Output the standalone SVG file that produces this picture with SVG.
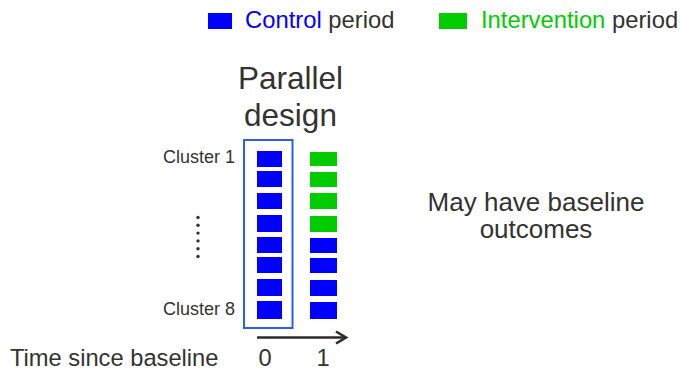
<svg xmlns="http://www.w3.org/2000/svg" width="680" height="370" viewBox="0 0 680 370">
<defs>
<style>
text{font-family:"Liberation Sans",Arial,sans-serif;fill:#333330}
.c{fill:#0000ff}
.i{fill:#00cc00}
.lg{font-size:23.8px}
.cl{font-size:18px;text-anchor:end}
.big{font-size:31.5px;text-anchor:middle}
.mid{font-size:26px;text-anchor:middle}
.ax{font-size:23.7px}
</style>
</defs>
<rect width="680" height="370" fill="#ffffff"/>
<g id="legend">
<rect class="c" x="208" y="13" width="24" height="16"/>
<text class="lg" x="245" y="27.5"><tspan fill="#0000ff">Control</tspan> period</text>
<rect class="i" x="439" y="13" width="28" height="16"/>
<text class="lg" x="481" y="27.5"><tspan fill="#00cc00">Intervention</tspan> period</text>
</g>
<g id="title">
<text class="big" x="290.5" y="88.5">Parallel</text>
<text class="big" x="290.5" y="126">design</text>
</g>
<g id="labels">
<text class="cl" x="235" y="163">Cluster 1</text>
<text class="cl" x="235" y="315">Cluster 8</text>
<g fill="#333330">
<circle cx="198" cy="217.5" r="1.7"/>
<circle cx="198" cy="225.3" r="1.7"/>
<circle cx="198" cy="233.1" r="1.7"/>
<circle cx="198" cy="240.9" r="1.7"/>
<circle cx="198" cy="248.7" r="1.7"/>
<circle cx="198" cy="256.5" r="1.7"/>
</g>
</g>
<g id="period0">
<rect x="244" y="140" width="48.5" height="188" fill="none" stroke="#2f5cf0" stroke-width="2"/>
<rect class="c" x="257" y="151" width="25" height="16"/>
<rect class="c" x="257" y="171" width="25" height="16"/>
<rect class="c" x="257" y="193" width="25" height="16"/>
<rect class="c" x="257" y="215" width="25" height="17"/>
<rect class="c" x="257" y="237" width="25" height="16"/>
<rect class="c" x="257" y="257" width="25" height="16"/>
<rect class="c" x="257" y="279" width="25" height="17"/>
<rect class="c" x="257" y="301" width="25" height="18"/>
</g>
<g id="period1">
<rect class="i" x="310" y="152" width="27" height="14"/>
<rect class="i" x="310" y="172" width="27" height="15"/>
<rect class="i" x="310" y="193" width="27" height="16"/>
<rect class="i" x="310" y="216" width="27" height="16"/>
<rect class="c" x="310" y="238" width="27" height="15"/>
<rect class="c" x="310" y="258" width="27" height="15"/>
<rect class="c" x="310" y="280" width="27" height="16"/>
<rect class="c" x="310" y="302" width="27" height="17"/>
</g>
<g id="connectors">
<line x1="257" y1="337.5" x2="345" y2="337.5" stroke="#2b2a26" stroke-width="2.6"/>
<polyline points="336,331.5 346,337.5 336,343.5" fill="none" stroke="#2b2a26" stroke-width="2.6" stroke-linejoin="miter"/>
</g>
<g id="axis">
<text class="ax" x="10" y="366">Time since baseline</text>
<text class="ax" x="265" y="366" text-anchor="middle">0</text>
<text class="ax" x="323" y="366" text-anchor="middle">1</text>
</g>
<g id="note">
<text class="mid" x="536" y="211">May have baseline</text>
<text class="mid" x="536" y="238">outcomes</text>
</g>
</svg>
